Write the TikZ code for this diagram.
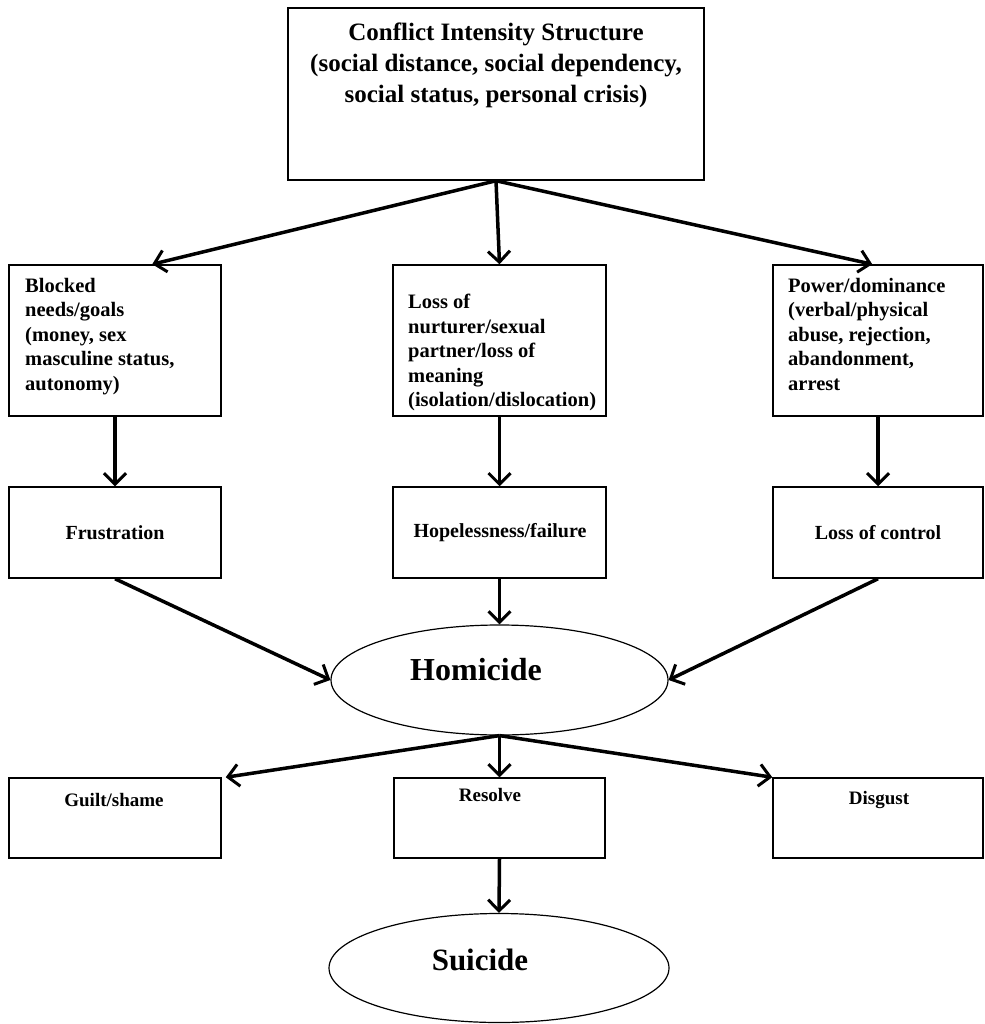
\documentclass[tikz,border=0pt]{standalone}
\usepackage{fontspec}
\setmainfont{Liberation Serif}
\usetikzlibrary{arrows.meta,shapes.geometric}
\tikzset{
  box/.style={draw=black, line width=1.5pt, rectangle, inner sep=0pt},
  oval/.style={draw=black, line width=1.2pt, ellipse, inner sep=0pt},
  arr/.style={line width=3.5pt, -{Straight Barb[length=11pt,width=22pt,line width=3pt]}},
  boxtxt/.style={font=\fontsize{20.5}{24.5}\selectfont\bfseries, align=left, inner sep=0pt},
  midtxt/.style={font=\fontsize{20}{22}\selectfont\bfseries, inner sep=0pt},
  smalltxt/.style={font=\fontsize{19}{20}\selectfont\bfseries, inner sep=0pt}
}
\begin{document}
\begin{tikzpicture}[x=1pt,y=-1pt]
\useasboundingbox[fill=white] (0,0) rectangle (984,1024);
% top box
\node[box, minimum width=416pt, minimum height=172pt] (top) at (496,94) {};
\node[font=\fontsize{25}{31}\selectfont\bfseries, align=center, anchor=north, inner sep=0pt] (toptxt) at (496,23)
  {Conflict Intensity Structure\\(social distance, social dependency,\\social status, personal crisis)};
% level 2
\node[box, minimum width=212pt, minimum height=151pt] (blocked) at (115,340.5) {};
\node[boxtxt, anchor=north west] (blockedtxt) at (25,278)
  {Blocked\\needs/goals\\(money, sex\\masculine status,\\autonomy)};
\node[box, minimum width=213pt, minimum height=151pt] (loss) at (499.5,340.5) {};
\node[boxtxt, anchor=north west] (losstxt) at (408,294)
  {Loss of\\nurturer/sexual\\partner/loss of\\meaning\\(isolation/dislocation)};
\node[box, minimum width=210pt, minimum height=151pt] (power) at (878,340.5) {};
\node[boxtxt, anchor=north west] (powertxt) at (788,278)
  {Power/dominance\\(verbal/physical\\abuse, rejection,\\abandonment,\\arrest};
% level 3
\node[box, minimum width=212pt, minimum height=91pt] (frus) at (115,532.5) {};
\node[midtxt] (frustxt) at (115,533) {Frustration};
\node[box, minimum width=213pt, minimum height=91pt] (hope) at (499.5,532.5) {};
\node[midtxt] (hopetxt) at (500,533) {Hopelessness/failure};
\node[box, minimum width=210pt, minimum height=91pt] (ctrl) at (878,532.5) {};
\node[midtxt] (ctrltxt) at (878,533) {Loss of control};
% homicide
\node[oval, minimum width=337pt, minimum height=110pt] (hom) at (499.5,680) {};
\node[font=\fontsize{32}{34}\selectfont\bfseries, inner sep=0pt] (homtxt) at (476,670) {Homicide};
% bottom boxes
\node[box, minimum width=212pt, minimum height=80pt] (guilt) at (115,818) {};
\node[smalltxt] (guilttxt) at (114,800) {Guilt/shame};
\node[box, minimum width=211pt, minimum height=80pt] (resolve) at (499.5,818) {};
\node[smalltxt] (resolvetxt) at (490,795) {Resolve};
\node[box, minimum width=210pt, minimum height=80pt] (disgust) at (878,818) {};
\node[smalltxt] (disgusttxt) at (879,800) {Disgust};
% suicide
\node[oval, minimum width=340pt, minimum height=109pt] (sui) at (499,968) {};
\node[font=\fontsize{31}{34}\selectfont\bfseries, inner sep=0pt] (suitxt) at (480,960) {Suicide};
% arrows
\draw[arr] (top.south) -- ([xshift=144pt]blocked.north west);
\draw[arr] (top.south) -- (loss.north);
\draw[arr] (top.south) -- ([xshift=100pt]power.north west);
\draw[arr] (blocked.south) -- (frus.north);
\draw[arr] (loss.south) -- (hope.north);
\draw[arr] (power.south) -- (ctrl.north);
\draw[arr] (frus.south) -- (hom.west);
\draw[arr] (hope.south) -- (hom.north);
\draw[arr] (ctrl.south) -- (hom.east);
\draw[arr] (hom.south) -- ([xshift=4pt]guilt.north east);
\draw[arr] (hom.south) -- (resolve.north);
\draw[arr] (hom.south) -- (disgust.north west);
\draw[arr] (resolve.south) -- (sui.north);
\end{tikzpicture}
\end{document}
